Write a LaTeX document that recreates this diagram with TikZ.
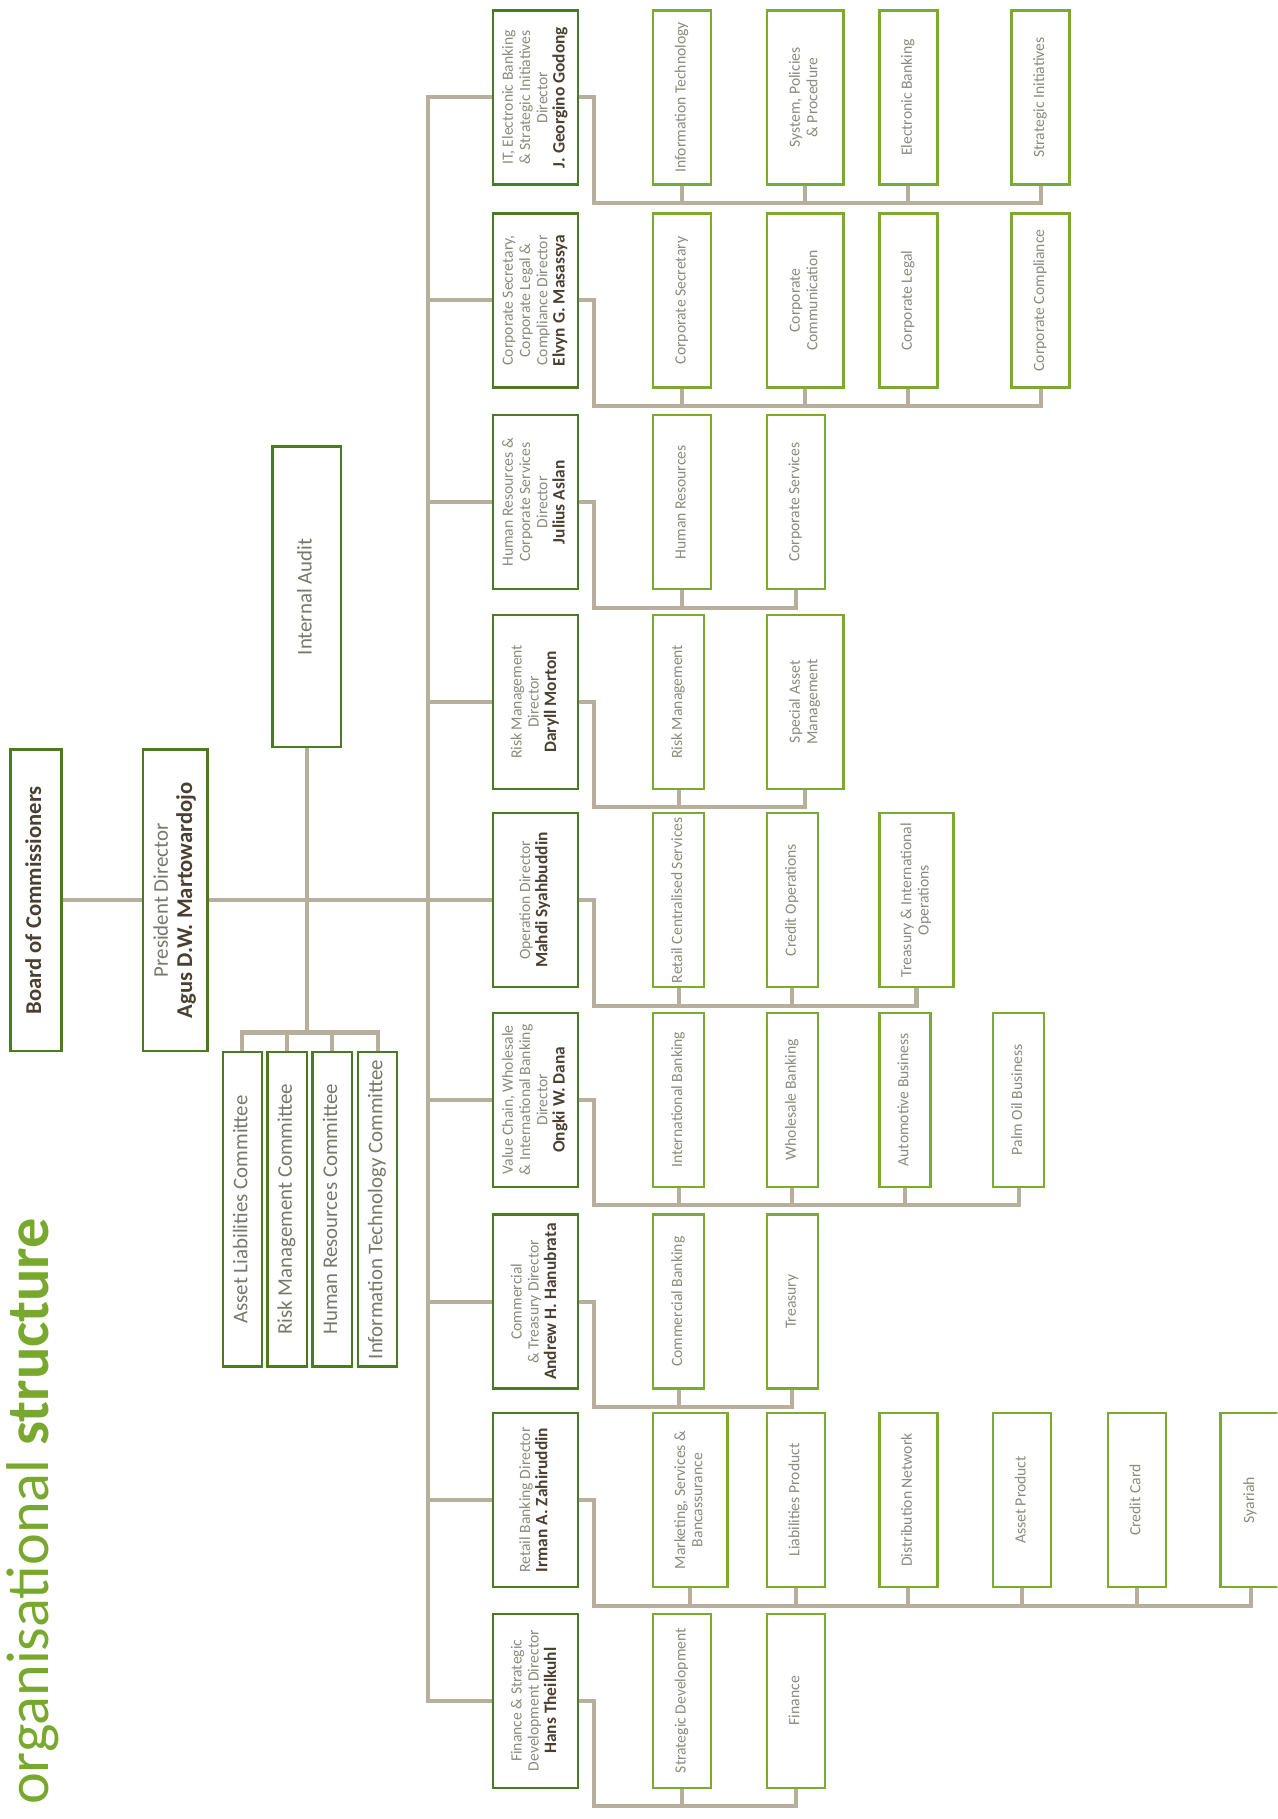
\documentclass[tikz,border=0pt]{standalone}
\usepackage{fontspec}
\setmainfont{Carlito}
\usepackage{graphicx}
\usepackage{tikz}
\usetikzlibrary{calc}
\definecolor{bdDark}{HTML}{4A7A22}
\definecolor{bdLight}{HTML}{7AAB2E}
\definecolor{lnTan}{HTML}{B8AE9C}
\definecolor{txGrey}{HTML}{8A8A7F}
\definecolor{txCom}{HTML}{77776A}
\definecolor{txName}{HTML}{4A4032}
\definecolor{ttGreen}{HTML}{78A82E}
\newcommand{\vlabel}[1]{\rotatebox{90}{\begin{tabular}{@{}c@{}}#1\end{tabular}}}
\newcommand{\who}[1]{\textbf{\color{txName}#1}}
\newcommand{\dirname}[1]{{\fontsize{15}{16}\selectfont\who{#1}}}

\begin{document}
\begin{tikzpicture}[x=1pt,y=-1pt,
    topbox/.style={draw=bdDark,line width=2pt,inner sep=0pt,text=txCom,font=\fontsize{18}{21}\selectfont},
    dirbox/.style={draw=bdDark,line width=2pt,inner sep=0pt,minimum width=73,minimum height=150,text=txGrey,font=\fontsize{13.5}{14.8}\selectfont},
    unitbox/.style={draw=bdLight,line width=2pt,inner sep=0pt,minimum height=150,text=txGrey,font=\fontsize{13.5}{15}\selectfont},
    link/.style={draw=lnTan,line width=3.5pt}]
  \useasboundingbox (0,0) rectangle (1101,1568);
  \clip (0,0) rectangle (1101,1568);

  % title
  \node[rotate=90,anchor=base west,inner sep=0pt,text=ttGreen,font=\fontsize{52}{52}\selectfont] (title) at (42,1556) {organisational \textbf{structure}};

  % top of the chart
  \node[topbox,minimum width=44,minimum height=260,font=\fontsize{19.5}{22}\selectfont] (board) at (31,776) {\vlabel{\who{Board of Commissioners}}};
  \node[topbox,minimum width=56,minimum height=260] (pres) at (151,776) {\vlabel{President Director\\{\fontsize{19.5}{22}\selectfont\who{Agus D.W. Martowardojo}}}};
  \node[topbox,minimum width=59,minimum height=259] (audit) at (264.5,514.5) {\vlabel{Internal Audit}};
  \foreach \i/\x/\txt in {1/209/{Asset Liabilities Committee},2/247.5/{Risk Management Committee},
                          3/286.5/{Human Resources Committee},4/325.5/{Information Technology Committee}}{
    \node[topbox,minimum width=34,minimum height=271] (c\i) at (\x,1042.5) {\vlabel{\txt}};
  }

  % directors
  \foreach \i/\txt in {
      1/{IT, Electronic Banking\\\& Strategic Initiatives\\Director\\\dirname{J. Georgino Godong}},
      2/{Corporate Secretary,\\Corporate Legal \&\\Compliance Director\\\dirname{Elvyn G. Masassya}},
      3/{Human Resources \&\\Corporate Services\\Director\\\dirname{Julius Aslan}},
      4/{Risk Management\\Director\\\dirname{Daryll Morton}},
      5/{Operation Director\\\dirname{Mahdi Syahbuddin}},
      6/{Value Chain, Wholesale\\\& International Banking\\Director\\\dirname{Ongki W. Dana}},
      7/{Commercial\\\& Treasury Director\\\dirname{Andrew H. Hanubrata}},
      8/{Retail Banking Director\\\dirname{Irman A. Zahiruddin}},
      9/{Finance \& Strategic\\Development Director\\\dirname{Hans Theilkuhl}}}{
    \pgfmathsetmacro{\yc}{{84,259,433,605,776,948,1122,1293,1466}[\i-1]}
    \node[dirbox] (d\i) at (461.5,\yc) {\vlabel{\txt}};
  }

  % units
  \foreach \n/\r/\xl/\xr/\txt in {
      s11/1/563/613/{Information Technology}, s12/1/661/727/{System, Policies\\\& Procedure},
      s13/1/758/808/{Electronic Banking}, s14/1/872/922/{Strategic Initiatives},
      s21/2/563/613/{Corporate Secretary}, s22/2/661/727/{Corporate\\Communication},
      s23/2/758/808/{Corporate Legal}, s24/2/872/922/{Corporate Compliance},
      s31/3/563/613/{Human Resources}, s32/3/661/711/{Corporate Services},
      s41/4/563/607/{Risk Management}, s42/4/661/727/{Special Asset\\Management},
      s51/5/563/607/{Retail Centralised Services}, s52/5/661/705/{Credit Operations},
      s53/5/758/822/{Treasury \& International\\Operations},
      s61/6/563/607/{International Banking}, s62/6/661/705/{Wholesale Banking},
      s63/6/758/802/{Automotive Business}, s64/6/856/900/{Palm Oil Business},
      s71/7/563/607/{Commercial Banking}, s72/7/661/705/{Treasury},
      s81/8/563/627/{Marketing, Services \&\\Bancassurance}, s82/8/661/711/{Liabilities Product},
      s83/8/758/808/{Distribution Network}, s84/8/856/906/{Asset Product},
      s85/8/955/1005/{Credit Card}, s86/8/1052/1104/{Syariah},
      s91/9/563/613/{Strategic Development}, s92/9/661/711/{Finance}}{
    \pgfmathsetmacro{\yc}{{84,259,433,605,776,948,1122,1293,1466}[\r-1]}
    \node[unitbox,minimum width={\xr-\xl}] (\n) at ({(\xl+\xr)/2},\yc) {\vlabel{\txt}};
  }

  % connectors
  \draw[link] (board.east) -- (pres.west);
  \draw[link] (pres.east) -- (d5.west);
  \coordinate (cbar) at (264.5,891);
  \draw[link] (audit.south) -- (cbar);
  \draw[link] (c1.north) -- ++(0,-16) -| (c4.north);
  \foreach \i in {2,3} \draw[link] (c\i.north) -- ++(0,-16);
  \draw[link] (d1.west) -- ++(-55,0) |- (d9.west);
  \foreach \i in {2,...,8} \draw[link] (d\i.west) -- ++(-55,0);
  \foreach \d/\last in {1/s14,2/s24,3/s32,4/s42,5/s53,6/s64,7/s72,8/s86,9/s92}{
    \draw[link] (\last.south) -- ++(0,15) -| ($(d\d.east)+(13,0)$) -- (d\d.east);
  }
  \foreach \s in {s11,s12,s13,s21,s22,s23,s31,s41,s51,s52,s61,s62,s63,s71,s81,s82,s83,s84,s85,s91}
    \draw[link] (\s.south) -- ++(0,15);
\end{tikzpicture}
\end{document}
